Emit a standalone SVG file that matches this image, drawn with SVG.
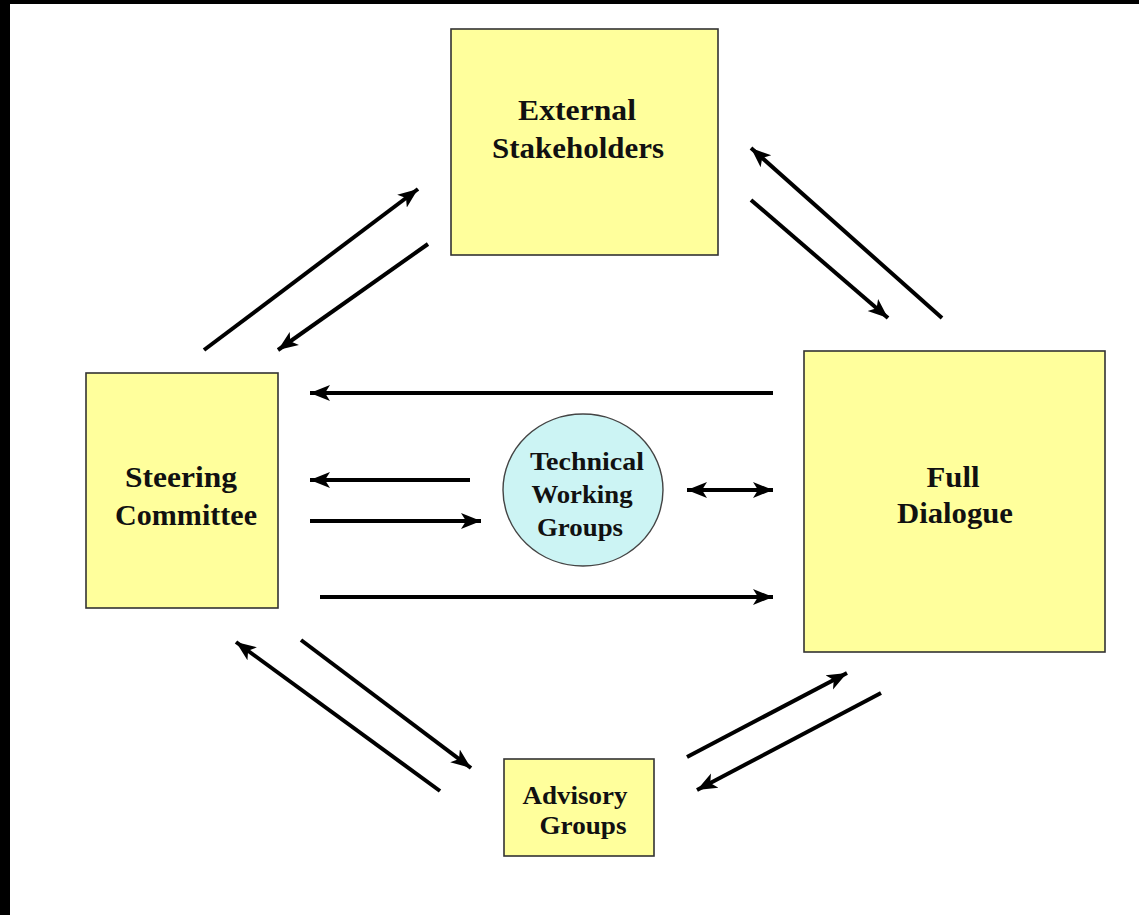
<svg xmlns="http://www.w3.org/2000/svg" width="1139" height="915" viewBox="0 0 1139 915">
<style>
.box{fill:#FFFF9C;stroke:#333;stroke-width:1.6}
.circ{fill:#CCF4F4;stroke:#444;stroke-width:1.4}
.lbl{font-family:"Liberation Serif","Times New Roman",serif;font-weight:bold;fill:#111;text-anchor:middle}
.big{font-size:29px}
.sm{font-size:26px}
.ar{stroke:#000;stroke-width:4;fill:none;marker-end:url(#ah)}
.ar2{stroke:#000;stroke-width:4;fill:none;marker-end:url(#ah);marker-start:url(#ahs)}
</style>
<defs>
<marker id="ah" markerUnits="userSpaceOnUse" markerWidth="22" markerHeight="18" viewBox="0 0 22 18" refX="20" refY="9" orient="auto">
<path d="M0,1 L20,9 L0,17 L5,9 Z" fill="#000"/>
</marker>
<marker id="ahs" markerUnits="userSpaceOnUse" markerWidth="22" markerHeight="18" viewBox="0 0 22 18" refX="2" refY="9" orient="auto">
<path d="M22,1 L2,9 L22,17 L17,9 Z" fill="#000"/>
</marker>
</defs>
<rect width="1139" height="915" fill="#fff"/>
<rect x="0" y="0" width="1139" height="4" fill="#000"/>
<rect x="0" y="0" width="10" height="915" fill="#000"/>

<g id="connectors">
<line class="ar" x1="204" y1="350" x2="418" y2="189"/>
<line class="ar" x1="428" y1="244" x2="278" y2="350"/>
<line class="ar" x1="942" y1="318" x2="751" y2="148"/>
<line class="ar" x1="751" y1="200" x2="888" y2="318"/>
<line class="ar" x1="773" y1="393" x2="310" y2="393"/>
<line class="ar" x1="470" y1="480" x2="310" y2="480"/>
<line class="ar" x1="310" y1="521" x2="481" y2="521"/>
<line class="ar2" x1="687" y1="490" x2="773" y2="490"/>
<line class="ar" x1="320" y1="597" x2="773" y2="597"/>
<line class="ar" x1="440" y1="791" x2="236" y2="642"/>
<line class="ar" x1="301" y1="640" x2="471" y2="768"/>
<line class="ar" x1="687" y1="757" x2="847" y2="673"/>
<line class="ar" x1="881" y1="693" x2="697" y2="790"/>
</g>

<g id="external-stakeholders">
<rect class="box" x="451" y="29" width="267" height="226"/>
<text class="lbl big" x="577" y="120" textLength="118" lengthAdjust="spacingAndGlyphs">External</text>
<text class="lbl big" x="578" y="158" textLength="172" lengthAdjust="spacingAndGlyphs">Stakeholders</text>
</g>

<g id="steering-committee">
<rect class="box" x="86" y="373" width="192" height="235"/>
<text class="lbl big" x="181" y="487" textLength="112" lengthAdjust="spacingAndGlyphs">Steering</text>
<text class="lbl big" x="186" y="525" textLength="142" lengthAdjust="spacingAndGlyphs">Committee</text>
</g>

<g id="full-dialogue">
<rect class="box" x="804" y="351" width="301" height="301"/>
<text class="lbl big" x="953" y="487" textLength="53" lengthAdjust="spacingAndGlyphs">Full</text>
<text class="lbl big" x="955" y="523" textLength="116" lengthAdjust="spacingAndGlyphs">Dialogue</text>
</g>

<g id="technical-working-groups">
<ellipse class="circ" cx="583" cy="490" rx="80" ry="76"/>
<text class="lbl sm" x="587" y="470" textLength="114" lengthAdjust="spacingAndGlyphs">Technical</text>
<text class="lbl sm" x="582" y="503" textLength="101" lengthAdjust="spacingAndGlyphs">Working</text>
<text class="lbl sm" x="580" y="536" textLength="86" lengthAdjust="spacingAndGlyphs">Groups</text>
</g>

<g id="advisory-groups">
<rect class="box" x="504" y="759" width="150" height="97"/>
<text class="lbl sm" x="575" y="804" textLength="105" lengthAdjust="spacingAndGlyphs">Advisory</text>
<text class="lbl sm" x="583" y="834" textLength="87" lengthAdjust="spacingAndGlyphs">Groups</text>
</g>
</svg>
